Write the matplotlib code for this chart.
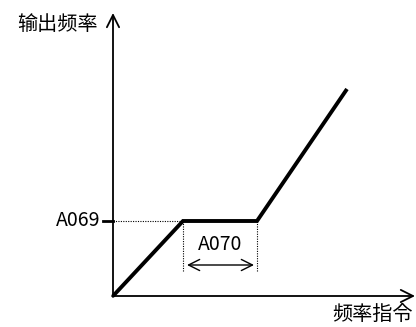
import matplotlib
matplotlib.use("Agg")
import matplotlib.pyplot as plt

plt.rcParams['font.family'] = ['Noto Sans CJK JP', 'DejaVu Sans']

# 频率指令 -> 输出频率 (chart units, origin at axes crossing)
freq_cmd = [0, 70, 144, 234]
out_freq = [0, 75, 75, 207]
a069 = 75
a070_start, a070_end = 70, 144

fig = plt.figure(figsize=(4.16, 3.27), dpi=100)
ax = fig.add_axes([0, 0, 1, 1])
ax.set_xlim(-113, 303)
ax.set_ylim(-31, 296)
ax.axis('off')

# axes with open arrowheads
ax.annotate('', xy=(0, 283), xytext=(0, -1),
            arrowprops=dict(arrowstyle='->', lw=1.3, color='black',
                            mutation_scale=22, shrinkA=0, shrinkB=0))
ax.annotate('', xy=(302, 0), xytext=(-1, 0),
            arrowprops=dict(arrowstyle='->', lw=1.3, color='black',
                            mutation_scale=22, shrinkA=0, shrinkB=0))

ax.plot(freq_cmd, out_freq, color='black', lw=2.8, solid_capstyle='butt',
        solid_joinstyle='miter')

# A069 level
ax.plot([-10, 0], [a069, a069], color='black', lw=2.0)
ax.plot([0, a070_start], [a069, a069], color='black', lw=0.8, ls=(0, (1, 1.2)))
ax.text(-13, a069, 'A069', ha='right', va='center', fontsize=14)

# A070 width
for xv in (a070_start, a070_end):
    ax.plot([xv, xv], [a069, 25], color='black', lw=0.8, ls=(0, (1, 1.2)))
ax.annotate('', xy=(a070_start + 4, 31), xytext=(a070_end - 3, 31),
            arrowprops=dict(arrowstyle='<->', lw=1.0, color='black',
                            mutation_scale=20, shrinkA=0, shrinkB=0))
ax.text((a070_start + a070_end) / 2, 52, 'A070', ha='center', va='center',
        fontsize=14)

ax.text(-56, 272, '输出频率', ha='center', va='center', fontsize=14.5)
ax.text(259, -18, '频率指令', ha='center', va='center', fontsize=14.5)

fig.savefig('out.png', dpi=100)
